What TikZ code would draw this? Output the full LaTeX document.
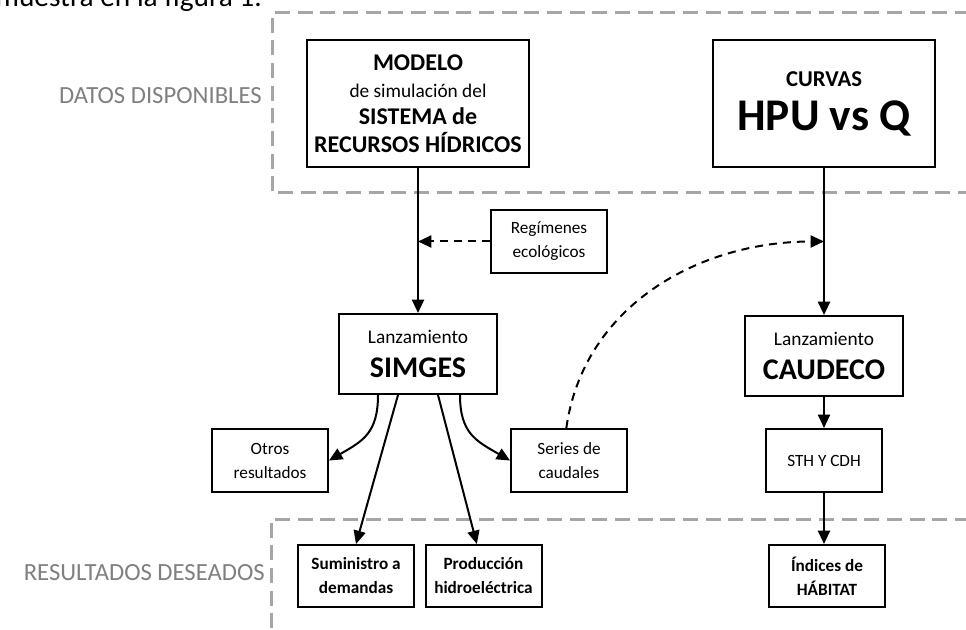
\documentclass[tikz,border=0pt]{standalone}
\usepackage{fontspec}
\setmainfont{Carlito}
\usetikzlibrary{arrows.meta,calc}
\definecolor{FrameGray}{HTML}{A6A6A6}
\definecolor{LabelGray}{HTML}{808080}
\tikzset{
  zoneframe/.style={draw=FrameGray,line width=2.25pt,dash pattern=on 11.25pt off 5.75pt},
  zonelabel/.style={text=LabelGray,font=\fontsize{18.5}{22}\selectfont,anchor=east,inner sep=0pt},
  box/.style={draw=black,line width=1.5pt,align=center,inner sep=0pt,font=\fontsize{12.9}{18}\selectfont},
  bigbox/.style={box,minimum width=166.5pt,minimum height=95.25pt,font=\fontsize{14.5}{20.5}\selectfont},
  runbox/.style={box,minimum width=118.5pt,minimum height=60pt,font=\fontsize{14.5}{25}\selectfont},
  smallbox/.style={box,minimum width=87pt,minimum height=47.25pt},
  goal/.style={smallbox,minimum height=46.5pt,font=\fontsize{12.9}{18}\selectfont\bfseries},
  flow/.style={-{Triangle[length=10pt,width=9pt]},line width=1.5pt},
  feed/.style={flow,dash pattern=on 6pt off 4.5pt}
}
\newcommand{\BigBold}[1]{{\fontsize{18}{20.5}\selectfont\bfseries #1}}
\newcommand{\RunName}[1]{{\fontsize{22.5}{25}\selectfont\bfseries #1}}

\begin{document}
\begin{tikzpicture}[x=0.75pt,y=-0.75pt]
  \useasboundingbox (0,0) rectangle (966,630);
  \node[anchor=base east,inner sep=0pt,font=\fontsize{22}{26}\selectfont] (intro) at (262,7) {muestra en la figura 1.};
  \draw[zoneframe] (970,13) -- (272,13) -- (272,193) -- (970,193);
  \draw[zoneframe] (970,519) -- (271,519) -- (271,640);
  \node[zonelabel] (datos) at (262,96) {DATOS DISPONIBLES};
  \node[zonelabel] (deseados) at (265,573) {RESULTADOS DESEADOS};

  \node[bigbox] (modelo) at (418,103.5)
    {\BigBold{MODELO}\\de simulación del\\\BigBold{SISTEMA de}\\\BigBold{RECURSOS HÍDRICOS}};
  \node[bigbox,font=\fontsize{17}{33}\selectfont\bfseries] (curvas) at (824,103.5)
    {CURVAS\\{\fontsize{34}{33}\selectfont HPU vs Q}};
  \node[smallbox] (regimenes) at (549,241.5) {Regímenes\\ecológicos};
  \node[runbox] (simges) at (418,354) {Lanzamiento\\\RunName{SIMGES}};
  \node[runbox] (caudeco) at (824,356) {Lanzamiento\\\RunName{CAUDECO}};
  \node[smallbox] (otros) at (270,460.5) {Otros\\resultados};
  \node[smallbox] (series) at (569,460.5) {Series de\\caudales};
  \node[smallbox] (sth) at (824,460.5) {STH Y CDH};
  \node[goal] (suministro) at (356,576) {Suministro a\\demandas};
  \node[goal] (produccion) at (483.5,576) {Producción\\hidroeléctrica};
  \node[goal] (indices) at (827,576) {Índices de\\HÁBITAT};

  \coordinate (regjoin) at (modelo.south |- regimenes.west);
  \coordinate (seriesjoin) at (curvas.south |- regimenes.west);

  \draw[flow] (modelo) -- (simges);
  \draw[feed] (regimenes.west) -- (regjoin);
  \draw[flow] (curvas) -- (caudeco);
  \draw[feed] ([xshift=-2pt]series.north) to[out=82,in=180] (seriesjoin);
  \draw[flow] ([xshift=-30pt]simges.south) to[out=-90,in=30,looseness=1.2] (otros.east);
  \draw[flow] ([xshift=-15pt]simges.south) -- (suministro.north);
  \draw[flow] ([xshift=15pt]simges.south) -- ([xshift=-5pt]produccion.north);
  \draw[flow] ([xshift=31.5pt]simges.south) to[out=-90,in=150,looseness=1.2] (series.west);
  \draw[flow] (caudeco) -- (sth);
  \draw[flow] (sth) -- (sth.south |- indices.north);
\end{tikzpicture}
\end{document}
